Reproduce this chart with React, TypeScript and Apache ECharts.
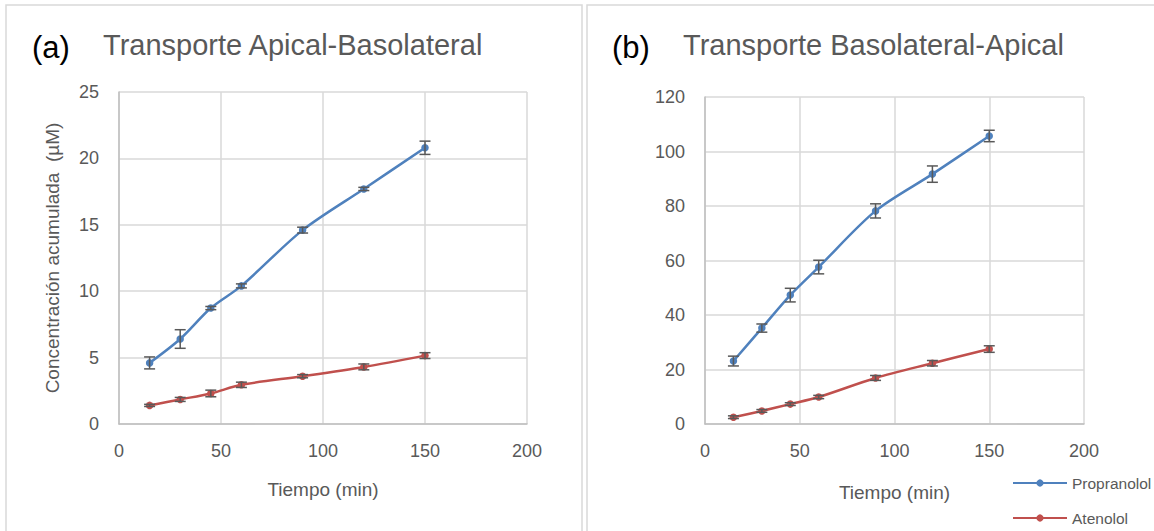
import React, { useEffect, useRef } from "react";
import * as echarts from "echarts";

const timeMin = [15, 30, 45, 60, 90, 120, 150];

// (a) Apical-Basolateral
const propA = [4.6, 6.4, 8.73, 10.4, 14.6, 17.7, 20.8];
const propAErr = [0.45, 0.7, 0.12, 0.15, 0.22, 0.12, 0.5];
const atenA = [1.4, 1.85, 2.3, 2.95, 3.6, 4.3, 5.15];
const atenAErr = [0.08, 0.15, 0.25, 0.2, 0.12, 0.22, 0.22];

// (b) Basolateral-Apical
const propB = [23.1, 35.2, 47.3, 57.6, 78.2, 91.7, 105.7];
const propBErr = [1.8, 1.5, 2.5, 2.5, 2.6, 3.0, 2.1];
const atenB = [2.5, 4.8, 7.3, 9.9, 16.9, 22.3, 27.5];
const atenBErr = [0.5, 0.5, 0.5, 0.6, 0.9, 1.0, 1.2];

const seriesNames = ["Propranolol", "Atenolol"];
const titleA = "Transporte Apical-Basolateral";
const titleB = "Transporte Basolateral-Apical";
const xName = "Tiempo (min)";
const yName = "Concentración acumulada  (µM)";

const BLUE = "#4F81BD";
const RED = "#C0504D";
const TXT = "#595959";
const GRID = "#D9D9D9";
const FONT = "'Liberation Sans', Arial, sans-serif";

const pts = (vals: number[]) => timeMin.map((t, i) => [t, vals[i]]);
const errs = (vals: number[], e: number[]) =>
  timeMin.map((t, i) => [t, vals[i] - e[i], vals[i] + e[i]]);

const errorRender = (params: any, api: any) => {
  const x = api.value(0);
  const lo = api.value(1);
  const hi = api.value(2);
  const p1 = api.coord([x, hi]);
  const p2 = api.coord([x, lo]);
  const w = 5.5;
  const style = { stroke: "#595959", lineWidth: 1.5 };
  return {
    type: "group",
    children: [
      { type: "line", shape: { x1: p1[0], y1: p1[1], x2: p2[0], y2: p2[1] }, style },
      { type: "line", shape: { x1: p1[0] - w, y1: p1[1], x2: p1[0] + w, y2: p1[1] }, style },
      { type: "line", shape: { x1: p2[0] - w, y1: p2[1], x2: p2[0] + w, y2: p2[1] }, style },
    ],
  };
};

export default function App() {
  const ref = useRef<HTMLDivElement>(null);
  useEffect(() => {
    if (!ref.current) return;
    const chart = echarts.init(ref.current, undefined, { renderer: "svg" });
    const axisLabel = { color: TXT, fontSize: 18, fontFamily: FONT };
    const xAxisBase = (gridIndex: number, gap: number) => ({
      type: "value",
      gridIndex,
      min: 0,
      max: 200,
      interval: 50,
      axisLine: { show: true, lineStyle: { color: "#BFBFBF", width: 1.5 } },
      axisTick: { show: false },
      splitLine: { show: true, lineStyle: { color: GRID, width: 1.5 } },
      axisLabel: { ...axisLabel, margin: 18 },
      name: xName,
      nameLocation: "middle",
      nameGap: gap,
      nameTextStyle: { color: TXT, fontSize: 19, fontFamily: FONT },
    });
    const yAxisBase = (gridIndex: number, max: number, interval: number) => ({
      type: "value",
      gridIndex,
      min: 0,
      max,
      interval,
      axisLine: { show: true, lineStyle: { color: "#BFBFBF", width: 1.5 } },
      axisTick: { show: false },
      splitLine: { show: true, lineStyle: { color: GRID, width: 1.5 } },
      axisLabel: { ...axisLabel, margin: 20 },
    });
    const lineSeries = (name: string, data: number[][], color: string, idx: number) => ({
      type: "line",
      name,
      xAxisIndex: idx,
      yAxisIndex: idx,
      data,
      smooth: 0.3,
      symbol: "circle",
      symbolSize: 7.5,
      color,
      lineStyle: { color, width: 2.5 },
      itemStyle: { color },
      z: 3,
    });
    const errSeries = (data: number[][], idx: number) => ({
      type: "custom",
      xAxisIndex: idx,
      yAxisIndex: idx,
      data,
      renderItem: errorRender,
      encode: { x: 0, y: [1, 2] },
      z: 4,
      silent: true,
    });
    const legendBase = {
      orient: "vertical",
      left: 1012,
      width: 142,
      padding: 0,
      itemWidth: 54,
      itemHeight: 9,
      itemGap: 5,
      textStyle: { color: TXT, fontSize: 15.5, fontFamily: FONT },
    };
    chart.setOption({
      animation: false,
      backgroundColor: "#ffffff",
      textStyle: { fontFamily: FONT },
      grid: [
        { left: 119, right: 1154 - 527, top: 92, bottom: 531 - 424 },
        { left: 705, right: 1154 - 1084, top: 97, bottom: 531 - 424 },
      ],
      xAxis: [xAxisBase(0, 56), xAxisBase(1, 59)],
      yAxis: [
        {
          ...yAxisBase(0, 25, 5),
          name: yName,
          nameLocation: "middle",
          nameGap: 57,
          nameTextStyle: { color: TXT, fontSize: 19, fontFamily: FONT },
        },
        yAxisBase(1, 120, 20),
      ],
      legend: [
        { ...legendBase, data: [seriesNames[0]], top: 475 },
        { ...legendBase, data: [seriesNames[1]], top: 510 },
      ],
      graphic: [
        { type: "rect", shape: { x: 6, y: 5, width: 576, height: 560 }, style: { fill: "none", stroke: GRID, lineWidth: 1.5 }, silent: true, z: -10 },
        { type: "rect", shape: { x: 587, y: 5, width: 600, height: 560 }, style: { fill: "none", stroke: GRID, lineWidth: 1.5 }, silent: true, z: -10 },
        { type: "text", x: 32, y: 47, style: { text: "(a)", fill: "#000", fontSize: 31, fontFamily: FONT, verticalAlign: "middle" } },
        { type: "text", x: 103, y: 45, style: { text: titleA, fill: TXT, fontSize: 29, fontFamily: FONT, verticalAlign: "middle" } },
        { type: "text", x: 612, y: 47, style: { text: "(b)", fill: "#000", fontSize: 31, fontFamily: FONT, verticalAlign: "middle" } },
        { type: "text", x: 683, y: 45, style: { text: titleB, fill: TXT, fontSize: 29, fontFamily: FONT, verticalAlign: "middle" } },
      ],
      series: [
        lineSeries(seriesNames[0], pts(propA), BLUE, 0),
        lineSeries(seriesNames[1], pts(atenA), RED, 0),
        lineSeries(seriesNames[0], pts(propB), BLUE, 1),
        lineSeries(seriesNames[1], pts(atenB), RED, 1),
        errSeries(errs(propA, propAErr), 0),
        errSeries(errs(atenA, atenAErr), 0),
        errSeries(errs(propB, propBErr), 1),
        errSeries(errs(atenB, atenBErr), 1),
      ],
    });
    return () => chart.dispose();
  }, []);
  return (
    <div
      ref={ref}
      style={{ position: "fixed", left: 0, top: 0, width: 1154, height: 531, background: "#fff" }}
    />
  );
}
